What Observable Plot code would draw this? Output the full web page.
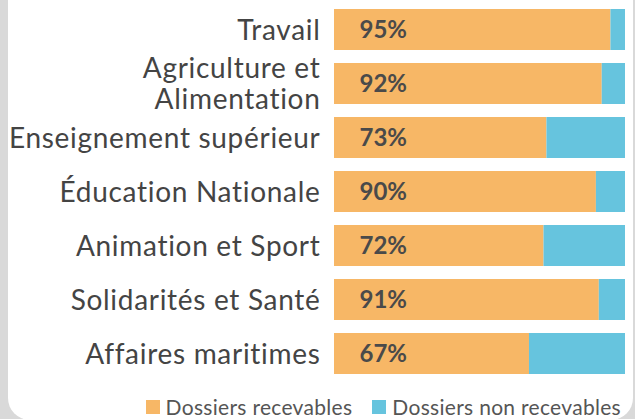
<!DOCTYPE html>
<html>
<head>
<meta charset="utf-8">
<script src="https://cdn.jsdelivr.net/npm/d3@7"></script>
<script src="https://cdn.jsdelivr.net/npm/@observablehq/plot@0.6"></script>
<style>
  html, body { margin: 0; padding: 0; }
  body { width: 635px; height: 419px; background: #d9d9d9; position: relative; overflow: hidden; font-family: Lato, sans-serif; font-variant-ligatures: none; }
  #panel { position: absolute; left: 8px; top: -30px; width: 625px; height: 450px; background: #fff; border-radius: 22px; }
  #content { position: absolute; left: 0; top: 0; width: 635px; }
  #legend { position: absolute; top: 396px; right: 14px; display: flex; align-items: center; font-size: 21px; line-height: 1; color: #555; white-space: nowrap; letter-spacing: 0.3px; }
  .item { display: flex; align-items: center; }
  .item + .item { margin-left: 20px; }
  .sw { width: 14px; height: 14px; margin-right: 6px; }
  svg g[text-anchor="end"] text { letter-spacing: 0.7px; }
  svg text { font-variant-ligatures: none; }
</style>
</head>
<body>
<div id="panel"></div>
<div id="content"></div>
<script>
const categories = ["Travail", "Agriculture et\nAlimentation", "Enseignement supérieur", "Éducation Nationale", "Animation et Sport", "Solidarités et Santé", "Affaires maritimes"];
const recevables = [95, 92, 73, 90, 72, 91, 67];
const nonRecevables = [5, 8, 27, 10, 28, 9, 33];
const seriesNames = ["Dossiers recevables", "Dossiers non recevables"];
const seriesColors = ["#f7b766", "#66c4de"];

const rows = [];
categories.forEach((c, i) => {
  rows.push({category: c, series: seriesNames[0], value: recevables[i]});
  rows.push({category: c, series: seriesNames[1], value: nonRecevables[i]});
});
const labels = categories.map((c, i) => ({category: c, value: recevables[i]}));

const chart = Plot.plot({
  width: 635,
  height: 384,
  marginTop: 6,
  marginBottom: 6,
  marginLeft: 334,
  marginRight: 10,
  style: {fontFamily: "Lato, sans-serif", background: "transparent", overflow: "visible"},
  x: {domain: [0, 100], axis: null},
  y: {domain: categories, axis: null, paddingInner: 0.236, paddingOuter: 0},
  color: {domain: seriesNames, range: seriesColors},
  marks: [
    Plot.barX(rows, Plot.stackX({x: "value", y: "category", fill: "series", order: seriesNames})),
    Plot.text(labels, {x: 0, y: "category", text: d => d.value + "%", textAnchor: "start", dx: 25, fontSize: 24, fontWeight: "bold", fill: "#4a4a4a"}),
    Plot.text(categories, {x: 0, y: d => d, text: d => d, textAnchor: "end", dx: -14, dy: 0, fontSize: 28, lineHeight: 1.1, fill: "#444"})
  ]
});
d3.select(chart).selectAll('g[text-anchor="end"]').style("letter-spacing", "0.7px");
d3.select(chart).selectAll('g[text-anchor="end"] text, g[text-anchor="end"] tspan').style("letter-spacing", "0.7px");
document.getElementById("content").appendChild(chart);

const legend = document.createElement("div");
legend.id = "legend";
seriesNames.forEach((s, i) => {
  const item = document.createElement("div");
  item.className = "item";
  const sw = document.createElement("span");
  sw.className = "sw";
  sw.style.background = seriesColors[i];
  const t = document.createElement("span");
  t.textContent = s;
  item.appendChild(sw);
  item.appendChild(t);
  legend.appendChild(item);
});
document.getElementById("content").appendChild(legend);
</script>
</body>
</html>
